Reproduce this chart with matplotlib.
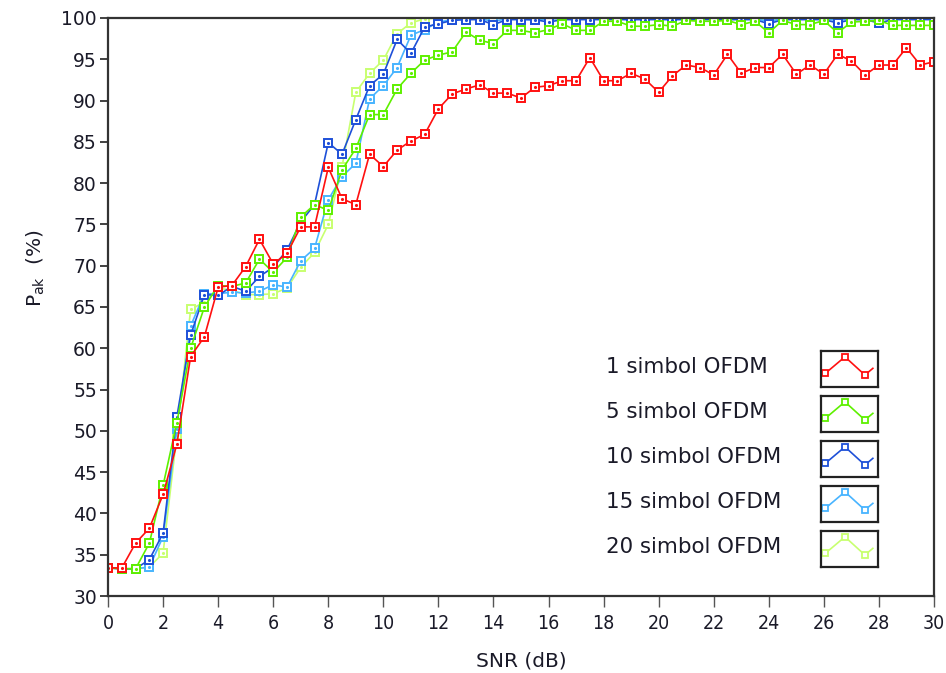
import numpy as np
import matplotlib.pyplot as plt

# SNR axis (dB), step 0.5
snr = np.arange(0, 30.5, 0.5)

p_1 = [33.4, 33.4, 36.4, 38.2, 42.3, 48.4, 59.0, 61.4, 67.4, 67.6,
       69.9, 73.2, 70.2, 71.5, 74.7, 74.7, 81.9, 78.1, 77.4, 83.5,
       82.0, 84.0, 85.1, 85.9, 89.0, 90.8, 91.4, 91.9, 90.9, 90.9,
       90.3, 91.6, 91.8, 92.4, 92.4, 95.2, 92.4, 92.4, 93.3, 92.6,
       91.0, 93.0, 94.3, 94.0, 93.1, 95.6, 93.3, 94.0, 94.0, 95.6,
       93.2, 94.3, 93.2, 95.6, 94.8, 93.1, 94.3, 94.3, 96.4, 94.3,
       94.7]
p_5 = [33.4, 33.3, 33.3, 36.4, 43.4, 51.0, 60.0, 65.0, 67.6, 67.5,
       67.9, 70.8, 69.2, 71.0, 75.9, 77.4, 76.7, 81.6, 84.2, 88.3,
       88.3, 91.4, 93.3, 94.9, 95.5, 95.9, 98.3, 97.3, 96.9, 98.5,
       98.5, 98.2, 98.6, 99.3, 98.5, 98.5, 99.6, 99.6, 99.0, 99.0,
       99.2, 99.0, 99.7, 99.6, 99.6, 99.7, 99.2, 99.6, 98.2, 99.7,
       99.2, 99.2, 99.7, 98.2, 99.5, 99.6, 99.7, 99.1, 99.1, 99.1,
       99.1]
p_10 = [33.4, 33.3, 33.3, 34.4, 37.6, 51.7, 61.6, 66.5, 66.4, 67.5,
        66.9, 68.7, 69.8, 71.9, 75.3, 77.4, 84.9, 83.5, 87.7, 91.8,
        93.2, 97.4, 95.7, 98.9, 99.3, 99.7, 99.8, 99.8, 99.2, 99.8,
        99.8, 99.8, 99.5, 99.8, 99.8, 99.8, 99.8, 99.8, 99.8, 99.8,
        99.8, 99.8, 99.8, 99.8, 99.8, 99.8, 99.8, 99.8, 99.3, 99.8,
        99.8, 99.8, 99.8, 99.4, 99.8, 99.8, 99.4, 99.8, 99.8, 99.8,
        99.8]
p_15 = [33.4, 33.3, 33.3, 33.5, 37.2, 50.2, 62.7, 66.6, 66.6, 66.8,
        66.7, 66.9, 67.7, 67.4, 70.6, 72.1, 78.0, 80.8, 82.4, 90.2,
        91.8, 94.0, 97.9, 98.6, 99.5, 99.8, 99.9, 99.9, 99.6, 99.9,
        99.9, 99.7, 99.9, 99.9, 99.9, 99.9, 99.9, 99.9, 99.9, 99.9,
        99.9, 99.9, 99.9, 99.9, 99.9, 99.9, 99.9, 99.9, 99.6, 99.9,
        99.9, 99.9, 99.9, 99.7, 99.9, 99.9, 99.9, 99.9, 99.9, 99.9,
        99.9]
p_20 = [33.4, 33.3, 33.3, 33.5, 35.2, 49.5, 64.7, 65.6, 67.3, 67.0,
        66.5, 66.5, 66.6, 67.3, 69.8, 71.6, 75.0, 82.0, 91.0, 93.3,
        94.9, 98.1, 99.4, 99.9, 100.0, 100.0, 100.0, 100.0, 100.0, 100.0,
        100.0, 100.0, 100.0, 100.0, 100.0, 100.0, 100.0, 100.0, 100.0, 100.0,
        100.0, 100.0, 100.0, 100.0, 100.0, 100.0, 100.0, 100.0, 99.8, 100.0,
        100.0, 100.0, 100.0, 99.8, 100.0, 100.0, 100.0, 100.0, 100.0, 100.0,
        100.0]

labels = ['1 simbol OFDM', '5 simbol OFDM', '10 simbol OFDM',
          '15 simbol OFDM', '20 simbol OFDM']
series = [p_1, p_5, p_10, p_15, p_20]
colors = ['#ff1010', '#5ef000', '#1e50d8', '#48b4ff', '#c8ff70']

txt = '#1a1a28'

fig = plt.figure(figsize=(9.46, 6.73), dpi=100)
ax = fig.add_axes([0.1142, 0.1144, 0.8731, 0.8589])

# draw 20 first so 1 ends on top
for y, c, z in zip(series[::-1], colors[::-1], range(5)):
    ax.plot(snr, y, color=c, lw=1.2, marker='s', ms=6, mfc='white',
            mec=c, mew=1.4, zorder=2 + z)
    ax.plot(snr, y, ls='none', marker='.', ms=2.5, color=c, zorder=2 + z)

ax.set_xlim(0, 30)
ax.set_ylim(30, 100)
ax.set_xticks(np.arange(0, 31, 2))
ax.set_yticks(np.arange(30, 101, 5))
ax.tick_params(axis='y', length=6, width=1.3, pad=2, labelsize=13.5,
               labelcolor=txt, color='#333333')
ax.tick_params(axis='x', length=8, width=1.0, pad=5, labelsize=14,
               labelcolor=txt, color='#555555')
for lb in ax.get_xticklabels():
    lb.set_fontstretch('condensed')
for s in ax.spines.values():
    s.set_linewidth(1.6)
    s.set_color('#333333')
    s.set_zorder(10)

fig.text(521 / 946, 1 - 661 / 673, 'SNR (dB)', ha='center', va='center',
         fontsize=14.5, color=txt)
fig.text(36 / 946, 1 - 268 / 673, r'P$_{\mathrm{ak}}$  (%)', rotation=90,
         ha='center', va='center', fontsize=14.5, color=txt)

# legend: text on the left, boxed sample line on the right
shape_x = [0.075, 0.42, 0.77, 0.91]
shape_y = [0.37, 0.83, 0.325, 0.51]
for i, (lab, c) in enumerate(zip(labels, colors)):
    top = 350.7 + 45 * i
    fig.text(606 / 946, 1 - (top + 16) / 673, lab, ha='left', va='center',
             fontsize=15.4, color=txt)
    lax = fig.add_axes([821 / 946, 1 - (top + 36) / 673, 57 / 946, 36 / 673])
    lax.set_xlim(0, 1)
    lax.set_ylim(0, 1)
    lax.set_xticks([])
    lax.set_yticks([])
    for s in lax.spines.values():
        s.set_linewidth(1.6)
        s.set_color('#222222')
    lax.plot(shape_x, shape_y, color=c, lw=1.2)
    lax.plot(shape_x[:3], shape_y[:3], ls='none', marker='s', ms=5,
             mfc='white', mec=c, mew=1.3)

fig.savefig('out.png', dpi=100)
